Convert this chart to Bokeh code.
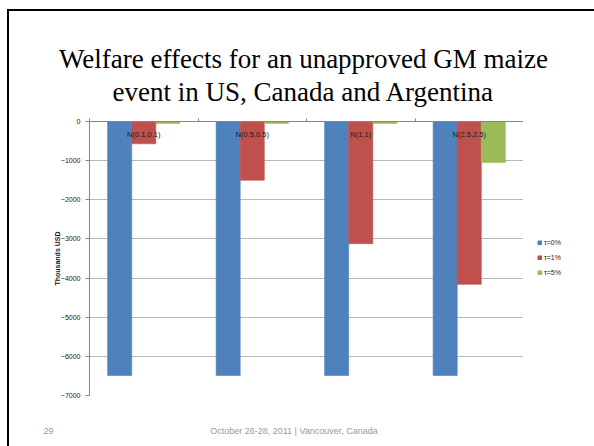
import numpy as np
from bokeh.plotting import figure
from bokeh.layouts import column, row
from bokeh.models import (Legend, LegendItem, FixedTicker, Range1d,
                          ColumnDataSource, InlineStyleSheet)
from bokeh.core.properties import value
from bokeh.embed import file_html
from bokeh.resources import INLINE

# Welfare effects (thousands USD) by prior distribution and tolerance level
categories = ["N(0.1,0.1)", "N(0.5,0.5)", "N(1,1)", "N(2.5,2.5)"]
tau_0 = [-6490, -6490, -6490, -6490]
tau_1 = [-570, -1500, -3120, -4160]
tau_5 = [-50, -50, -50, -1050]
series_names = ["τ=0%", "τ=1%", "τ=5%"]
y_ticks = [0, -1000, -2000, -3000, -4000, -5000, -6000, -7000]

title_lines = ["Welfare effects for an unapproved GM maize",
               "event in US, Canada and Argentina"]
slide_number = "29"
footer_text = "October 26-28, 2011    |    Vancouver, Canada"

colors = ["#4F81BD", "#C0504D", "#9BBB59"]

W = 594
H_TOP, H_CHART, H_FOOT = 112, 298, 36
W_CHART = 523


def blank_panel(width, height):
    """A plain white strip in pixel coordinates (y downward)."""
    f = figure(width=width, height=height, output_backend="svg", toolbar_location=None,
               x_range=Range1d(0, width), y_range=Range1d(height, 0),
               x_axis_location=None, y_axis_location=None,
               min_border=0)
    f.outline_line_color = None
    f.grid.visible = False
    f.background_fill_color = "white"
    f.border_fill_color = "white"
    return f


# ---- slide title ----
top = blank_panel(W, H_TOP)
top.text(x=[303, 303], y=[58, 91], text=title_lines, text_align="center",
         text_baseline="alphabetic", text_font=value("Liberation Serif"),
         text_font_size="27px", text_color="#000000")

# ---- chart ----
p = figure(width=W_CHART, height=H_CHART, output_backend="svg", toolbar_location=None,
           x_range=Range1d(0, len(categories)), y_range=Range1d(-7000, 0),
           x_axis_location="above",
           min_border_left=89, min_border_right=0, min_border_top=9,
           min_border_bottom=15)
p.outline_line_color = None
p.background_fill_color = "white"
p.border_fill_color = "white"

centers = np.arange(len(categories)) + 0.5
bar_w = 0.222
for k, vals in enumerate([tau_0, tau_1, tau_5]):
    src = ColumnDataSource(dict(x=centers + (k - 1) * bar_w, top=vals))
    p.vbar(x="x", top="top", bottom=0, width=bar_w, source=src,
           fill_color=colors[k], line_color=colors[k], line_alpha=0.6)

# category names shown inside the top of each group
lab_src = ColumnDataSource(dict(x=centers, y=[0] * len(categories), t=categories))
p.text(x="x", y="y", text="t", source=lab_src, text_align="center",
       text_baseline="middle", y_offset=13, text_font=value("Liberation Sans"),
       text_font_size="7.5px", text_color="#1a1a1a")

xa = p.xaxis[0]
xa.ticker = FixedTicker(ticks=list(range(len(categories) + 1)))
xa.major_label_text_font_size = "0px"
xa.major_label_standoff = 0
xa.axis_line_color = "#868686"
xa.major_tick_line_color = "#868686"
xa.major_tick_out = 3
xa.major_tick_in = 0
xa.minor_tick_line_color = None

ya = p.yaxis[0]
ya.ticker = FixedTicker(ticks=y_ticks)
ya.axis_label = "Thousands USD"
ya.axis_label_text_font = "Liberation Sans"
ya.axis_label_text_font_size = "7px"
ya.axis_label_text_font_style = "bold"
ya.axis_label_text_color = "#1a1a1a"
ya.axis_label_standoff = -3
ya.major_label_text_font = "Liberation Sans"
ya.major_label_text_font_size = "7px"
ya.major_label_text_color = "#1a1a1a"
ya.major_label_standoff = 5
ya.axis_line_color = "#868686"
ya.major_tick_line_color = "#868686"
ya.major_tick_out = 4
ya.major_tick_in = 0
ya.minor_tick_line_color = None

p.xgrid.grid_line_color = None
p.ygrid.ticker = FixedTicker(ticks=y_ticks)
p.ygrid.grid_line_color = "#b8b8b8"

# ---- legend strip to the right of the chart ----
leg = blank_panel(W - W_CHART, H_CHART)
swatches = []
for k in range(3):
    # zero-size proxy glyphs carrying each series' colours for the legend
    swatches.append(leg.vbar(x=[0], top=[0], bottom=[0], width=0,
                             fill_color=colors[k], line_color=colors[k]))
legend = Legend(items=[LegendItem(label=n, renderers=[r]) for n, r in zip(series_names, swatches)],
                location=(14, 119), orientation="vertical",
                glyph_width=5, glyph_height=5, label_height=6, spacing=8,
                padding=0, margin=0, label_standoff=2,
                label_text_font="Liberation Sans", label_text_font_size="7px",
                label_text_color="#262626", border_line_color=None,
                background_fill_alpha=0)
leg.add_layout(legend, "center")

# ---- footer ----
foot = blank_panel(W, H_FOOT)
foot.text(x=[43], y=[20], text=[slide_number], text_align="left",
          text_baseline="middle", text_font=value("Liberation Sans"),
          text_font_size="9px", text_color="#999999")
foot.text(x=[301], y=[20], text=[footer_text], text_align="center",
          text_baseline="middle", text_font=value("Liberation Sans"),
          text_font_size="9px", text_color="#999999")

slide = column(top, row(p, leg, spacing=0), foot, spacing=0)
# slide frame: thick rule along the top and left edges
slide.stylesheets = [InlineStyleSheet(css="""
:host::before { content: ""; position: absolute; left: 7px; top: 9px; width: 2px;
                bottom: 0; background: #000; z-index: 10; pointer-events: none; }
:host::after  { content: ""; position: absolute; left: 7px; top: 9px; right: 0;
                height: 2px; background: #000; z-index: 10; pointer-events: none; }
""")]

open("out.html", "w").write(file_html(slide, INLINE))
